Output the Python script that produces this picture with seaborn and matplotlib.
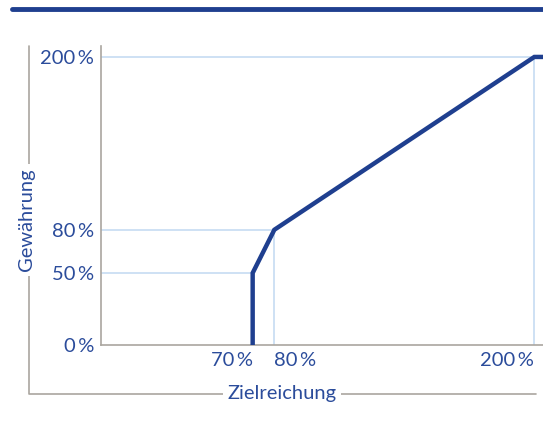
import seaborn as sns
import matplotlib.pyplot as plt
import pandas as pd
from matplotlib.lines import Line2D

# Kurve: Zielreichung -> Gewährung (in %)
zielreichung = [70, 70, 80, 200, 210]
gewaehrung = [0, 50, 80, 200, 200]

# Stützstellen mit Hilfslinien
guide_x = [70, 80, 200]
guide_y = [50, 80, 200]

x_ticks = [70, 80, 200]
x_labels = ["70\u2009%", "80\u2009%", "200\u2009%"]
x_align = ["right", "left", "right"]
y_ticks = [0, 50, 80, 200]
y_labels = ["0\u2009%", "50\u2009%", "80\u2009%", "200\u2009%"]

blue = "#1f3f8f"
text_blue = "#2b4c9b"
grid_blue = "#c6dbf2"
grey = "#aaa69f"

sns.set_style("white")
plt.rcParams["font.family"] = ["Lato", "DejaVu Sans"]
fs = 14.5

fig = plt.figure(figsize=(5.43, 4.30), dpi=100)
ax = fig.add_axes([101 / 543, 85 / 430, 442 / 543, 299 / 430])

df = pd.DataFrame({"Zielreichung": zielreichung, "Gewährung": gewaehrung})

# Hilfslinien
ax.hlines(guide_y, 0, guide_x, color=grid_blue, lw=1.2, zorder=1)
ax.vlines(guide_x[1:], 0, guide_y[1:], color=grid_blue, lw=1.2, zorder=1)

sns.lineplot(data=df, x="Zielreichung", y="Gewährung", sort=False, estimator=None,
             color=blue, lw=3.2, ax=ax, zorder=3, solid_joinstyle="miter")

ax.set_xlim(0, 204)
ax.set_ylim(0, 207.6)

ax.set_xticks(x_ticks)
ax.set_xticklabels(x_labels, fontsize=fs, color=text_blue)
for lab, ha in zip(ax.get_xticklabels(), x_align):
    lab.set_ha(ha)
ax.set_yticks(y_ticks)
ax.set_yticklabels(y_labels, fontsize=fs, color=text_blue)
ax.tick_params(length=0, pad=5)
ax.set_xlabel("")
ax.set_ylabel("")

for s in ["top", "right"]:
    ax.spines[s].set_visible(False)
for s in ["left", "bottom"]:
    ax.spines[s].set_color(grey)
    ax.spines[s].set_linewidth(1.2)

# Balken oben
fig.add_artist(Line2D([12 / 543, 1], [421 / 430, 421 / 430], color=blue, lw=3.5))

# Achsenklammer
bx, by = 29 / 543, 36 / 430
fig.add_artist(Line2D([bx, bx, 536 / 543], [384 / 430, by, by], color=grey, lw=1.2))
fig.text(bx - 2 / 543, 210 / 430, "Gewährung", rotation=90, ha="center", va="center",
         fontsize=fs, color=text_blue,
         bbox=dict(facecolor="white", edgecolor="none", pad=3))
fig.text(282 / 543, by + 1 / 430, "Zielreichung", ha="center", va="center",
         fontsize=fs, color=text_blue,
         bbox=dict(facecolor="white", edgecolor="none", pad=3))

fig.savefig("out.png", dpi=100)
